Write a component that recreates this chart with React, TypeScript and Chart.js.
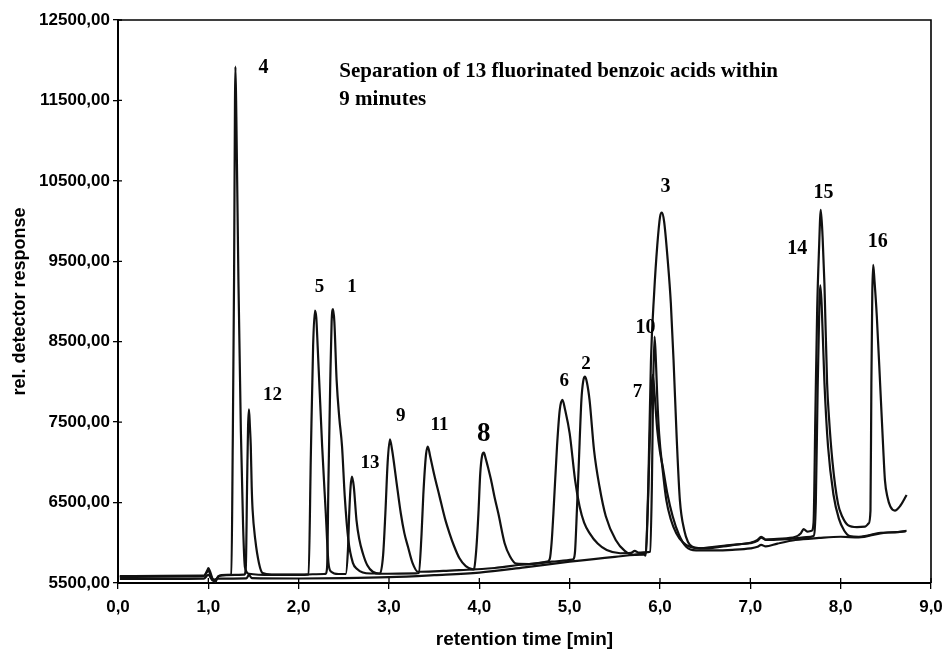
import React, { useEffect, useRef } from "react";
import { Chart, registerables } from "chart.js";

Chart.register(...registerables);

// axis ticks
const xTicks = [0, 1, 2, 3, 4, 5, 6, 7, 8, 9];
const yTicks = [5500, 6500, 7500, 8500, 9500, 10500, 11500, 12500];

// [retention time (min), detector response] – run A (peaks 4, 5, 13, 11, 6, 10, 15, 16)
const traceA: [number, number][] = [
  [0.02, 5585], [0.5, 5590], [0.95, 5592], [0.99, 5660], [1.0, 5685], [1.02, 5640], [1.05, 5540], [1.08, 5515], [1.11, 5585], [1.2, 5600],
  [1.255, 5605], [1.27, 7200], [1.285, 9300], [1.295, 11500], [1.3, 11920], [1.31, 11300], [1.333, 9270], [1.36, 7400], [1.385, 6200], [1.405, 5700], [1.45, 5615],
  [1.7, 5600], [2.0, 5600], [2.11, 5608],
  [2.135, 7100], [2.16, 8450], [2.18, 8887], [2.195, 8800], [2.21, 8450], [2.26, 7200], [2.3, 6370], [2.33, 5750], [2.36, 5640], [2.44, 5612],
  [2.52, 5612], [2.545, 5900], [2.56, 6370], [2.575, 6700], [2.59, 6822], [2.61, 6700], [2.64, 6283], [2.67, 6050], [2.71, 5870], [2.76, 5720], [2.82, 5640], [2.9, 5615], [3.3, 5620],
  [3.33, 5625], [3.36, 6100], [3.38, 6600], [3.41, 7100], [3.43, 7197], [3.455, 7080], [3.5, 6850], [3.56, 6574], [3.62, 6300], [3.67, 6118], [3.72, 5960], [3.78, 5807], [3.85, 5710], [3.93, 5670],
  [4.2, 5690], [4.5, 5730], [4.75, 5765],
  [4.78, 5800], [4.8, 6000], [4.82, 6366], [4.86, 7200], [4.89, 7650], [4.92, 7776], [4.95, 7650], [5.0, 7360], [5.06, 6780], [5.11, 6450], [5.16, 6250], [5.22, 6120], [5.31, 5990], [5.41, 5910], [5.56, 5870],
  [5.68, 5875], [5.72, 5900], [5.76, 5878], [5.87, 5885],
  [5.89, 5890], [5.91, 6700], [5.925, 8000], [5.94, 8563], [5.955, 8250], [5.97, 7800], [5.99, 7360], [6.03, 6900], [6.07, 6530], [6.12, 6290], [6.18, 6120], [6.25, 6010], [6.33, 5950], [6.44, 5930],
  [6.6, 5950], [6.8, 5975], [7.0, 6000], [7.08, 6035], [7.12, 6075], [7.17, 6040], [7.3, 6050], [7.5, 6075], [7.56, 6120], [7.59, 6170], [7.63, 6140], [7.68, 6150],
  [7.7, 6250], [7.72, 7600], [7.74, 8900], [7.76, 9640], [7.78, 10140], [7.8, 9800], [7.82, 9230], [7.85, 7980], [7.87, 7570], [7.91, 7000], [7.97, 6490], [8.02, 6320], [8.08, 6220], [8.18, 6195], [8.27, 6200],
  [8.31, 6240], [8.33, 6400], [8.34, 7990], [8.35, 9100], [8.36, 9455], [8.375, 9250], [8.4, 8820], [8.44, 7900], [8.47, 7200], [8.49, 6780], [8.52, 6560], [8.55, 6450], [8.6, 6400], [8.66, 6460], [8.73, 6595],
];

// run B (peaks 12, 1, 9, 8, 2, 3, 14)
const traceB: [number, number][] = [
  [0.02, 5575], [0.5, 5580], [0.95, 5585], [1.0, 5650], [1.04, 5560], [1.08, 5540], [1.12, 5590], [1.3, 5600],
  [1.4, 5605], [1.415, 5700], [1.43, 6800], [1.44, 7450], [1.45, 7660], [1.46, 7450], [1.47, 7200], [1.48, 6700], [1.49, 6410], [1.52, 6035], [1.56, 5750], [1.6, 5625],
  [1.7, 5605], [2.0, 5605], [2.28, 5612],
  [2.3, 5615], [2.315, 5700], [2.33, 6800], [2.35, 8025], [2.365, 8750], [2.38, 8904], [2.395, 8750], [2.42, 8025], [2.45, 7550], [2.48, 7200], [2.51, 6580], [2.55, 6035], [2.6, 5750], [2.65, 5670], [2.71, 5630], [2.8, 5618],
  [2.9, 5618], [2.935, 5850], [2.96, 6370], [2.985, 7000], [3.01, 7287], [3.035, 7150], [3.08, 6780], [3.13, 6370], [3.17, 6120], [3.21, 5950], [3.26, 5750], [3.32, 5640], [3.6, 5650], [3.93, 5668],
  [3.94, 5672], [3.965, 5900], [3.99, 6366], [4.01, 6860], [4.03, 7080], [4.05, 7120], [4.07, 7050], [4.1, 6920], [4.13, 6780], [4.17, 6560], [4.21, 6366], [4.28, 5995], [4.34, 5830], [4.41, 5740], [4.55, 5735], [4.8, 5765], [5.03, 5790],
  [5.04, 5795], [5.06, 5900], [5.08, 6400], [5.1, 6950], [5.13, 7776], [5.15, 8010], [5.17, 8066], [5.19, 8000], [5.22, 7776], [5.27, 7150], [5.33, 6700], [5.4, 6330], [5.51, 6035], [5.61, 5900], [5.71, 5850], [5.8, 5860],
  [5.84, 5868], [5.87, 6700], [5.9, 8270], [5.935, 9100], [5.97, 9700], [6.0, 10050], [6.02, 10106], [6.045, 10000], [6.085, 9520], [6.12, 8980], [6.15, 8270], [6.185, 7300], [6.22, 6530], [6.27, 6150], [6.31, 6010], [6.36, 5950], [6.51, 5930],
  [6.7, 5955], [6.9, 5985], [7.0, 5995], [7.08, 6025], [7.12, 6065], [7.17, 6035], [7.3, 6040], [7.5, 6055], [7.62, 6070], [7.7, 6085],
  [7.725, 6500], [7.745, 7900], [7.765, 9000], [7.775, 9200], [7.79, 8950], [7.82, 8000], [7.86, 7200], [7.92, 6600], [7.98, 6300], [8.04, 6150], [8.1, 6085], [8.2, 6075], [8.3, 6090], [8.44, 6125], [8.6, 6130], [8.73, 6150],
];

// run C (peak 7, lower baseline)
const traceC: [number, number][] = [
  [0.02, 5550], [0.5, 5552], [0.95, 5555], [1.0, 5600], [1.05, 5530], [1.1, 5555], [1.42, 5558], [1.45, 5600], [1.48, 5560],
  [2.0, 5556], [2.5, 5560], [3.0, 5572], [3.5, 5598], [4.0, 5630], [4.5, 5695], [5.0, 5765], [5.5, 5825], [5.82, 5855],
  [5.84, 5840], [5.87, 6600], [5.895, 7600], [5.92, 8087], [5.94, 7850], [5.97, 7400], [6.0, 7130], [6.03, 6950], [6.08, 6620], [6.14, 6330], [6.21, 6100], [6.29, 5950], [6.4, 5905],
  [6.6, 5905], [6.8, 5912], [7.0, 5930], [7.08, 5950], [7.12, 5975], [7.17, 5955], [7.3, 5990], [7.5, 6035], [7.76, 6060], [8.0, 6075], [8.2, 6068], [8.44, 6118], [8.72, 6140],
];

// peak labels (text, position in data units, font size)
const peakNames = ["4", "12", "5", "1", "13", "9", "11", "8", "6", "2", "7", "10", "3", "14", "15", "16"];
const peakLabelX = [1.61, 1.71, 2.23, 2.59, 2.79, 3.13, 3.56, 4.05, 4.94, 5.18, 5.75, 5.84, 6.06, 7.52, 7.81, 8.41];
const peakLabelY = [11907, 7837, 9180, 9180, 6992, 7576, 7464, 7353, 8012, 8223, 7879, 8677, 10420, 9661, 10353, 9745];
const peakLabelSize = [20, 19, 19, 19, 19, 19, 19, 27, 19, 19, 19, 20, 20, 20, 20, 20];

const titleLines = ["Separation of 13 fluorinated benzoic acids within", "9 minutes"];
const titleX = 2.45;
const titleY = [11853, 11505];

const xTitle = "retention time [min]";
const yTitle = "rel. detector response";

const serif = '"Liberation Serif", "Times New Roman", serif';
const sans = '"Liberation Sans", Arial, sans-serif';

const annotate = {
  id: "annotate",
  afterDatasetsDraw(chart: any) {
    const { ctx, chartArea, scales } = chart;
    const x = scales.x;
    const y = scales.y;
    ctx.save();
    ctx.strokeStyle = "#000";
    ctx.lineWidth = 1.6;
    ctx.beginPath();
    ctx.moveTo(chartArea.left, chartArea.top);
    ctx.lineTo(chartArea.right, chartArea.top);
    ctx.lineTo(chartArea.right, chartArea.bottom);
    ctx.stroke();
    ctx.lineWidth = 1.3;
    ctx.beginPath();
    xTicks.forEach((v) => {
      const px = x.getPixelForValue(v);
      ctx.moveTo(px, chartArea.bottom);
      ctx.lineTo(px, chartArea.bottom - 5);
    });
    yTicks.forEach((v) => {
      const py = y.getPixelForValue(v);
      ctx.moveTo(chartArea.left, py);
      ctx.lineTo(chartArea.left + 4, py);
    });
    ctx.stroke();

    ctx.fillStyle = "#000";
    ctx.textAlign = "center";
    ctx.textBaseline = "middle";
    peakNames.forEach((t, i) => {
      ctx.font = `bold ${peakLabelSize[i]}px ${serif}`;
      ctx.fillText(t, x.getPixelForValue(peakLabelX[i]), y.getPixelForValue(peakLabelY[i]));
    });
    ctx.textAlign = "left";
    ctx.font = `bold 21px ${serif}`;
    titleLines.forEach((t, i) => {
      ctx.fillText(t, x.getPixelForValue(titleX), y.getPixelForValue(titleY[i]));
    });
    ctx.restore();
  },
};

const lineDs = (pts: [number, number][]) => ({
  data: pts.map(([t, r]) => ({ x: t, y: r })),
  borderColor: "#111",
  borderWidth: 2.2,
  pointRadius: 0,
  fill: false,
  cubicInterpolationMode: "monotone" as const,
});

export default function App() {
  const ref = useRef<HTMLCanvasElement | null>(null);
  useEffect(() => {
    document.body.style.margin = "0";
    const canvas = ref.current;
    if (!canvas) return;
    const chart = new Chart(canvas, {
      type: "line",
      data: { datasets: [lineDs(traceA), lineDs(traceB), lineDs(traceC)] as any },
      options: {
        animation: false,
        responsive: false,
        layout: { padding: { top: 20, right: 14, left: 0, bottom: 0 } },
        plugins: { legend: { display: false }, tooltip: { enabled: false } },
        scales: {
          x: {
            type: "linear",
            min: 0,
            max: 9,
            afterBuildTicks: (s: any) => {
              s.ticks = xTicks.map((v) => ({ value: v }));
            },
            afterFit: (s: any) => {
              s.height = 66;
              s.paddingRight = 0;
              s.paddingLeft = 0;
            },
            ticks: {
              color: "#000",
              font: { family: sans, size: 17, weight: "bold" },
              padding: 8,
              maxRotation: 0,
              callback: (v: any) => Number(v).toFixed(1).replace(".", ","),
            },
            grid: { drawOnChartArea: false, drawTicks: true, tickLength: 6, color: "#000", lineWidth: 1.3 },
            border: { display: true, color: "#000", width: 2 },
            title: {
              display: true,
              text: xTitle,
              color: "#000",
              font: { family: sans, size: 19, weight: "bold", lineHeight: 1 },
              padding: { top: 0, bottom: 0 },
            },
          },
          y: {
            type: "linear",
            min: 5500,
            max: 12500,
            afterBuildTicks: (s: any) => {
              s.ticks = yTicks.map((v) => ({ value: v }));
            },
            afterFit: (s: any) => {
              s.width = 118;
              s.paddingTop = 0;
              s.paddingBottom = 0;
            },
            ticks: {
              color: "#000",
              font: { family: sans, size: 17, weight: "bold" },
              padding: 3,
              callback: (v: any) => Number(v).toFixed(2).replace(".", ","),
            },
            grid: { drawOnChartArea: false, drawTicks: true, tickLength: 5, color: "#000", lineWidth: 1.3 },
            border: { display: true, color: "#000", width: 2 },
            title: {
              display: true,
              text: yTitle,
              color: "#000",
              font: { family: sans, size: 18, weight: "bold", lineHeight: 1.2 },
              padding: { top: 9, bottom: 0 },
            },
          },
        },
      },
      plugins: [annotate],
    });
    return () => chart.destroy();
  }, []);
  return (
    <div style={{ width: 945, height: 649, position: "relative" }}>
      <canvas ref={ref} width={945} height={649} />
    </div>
  );
}
